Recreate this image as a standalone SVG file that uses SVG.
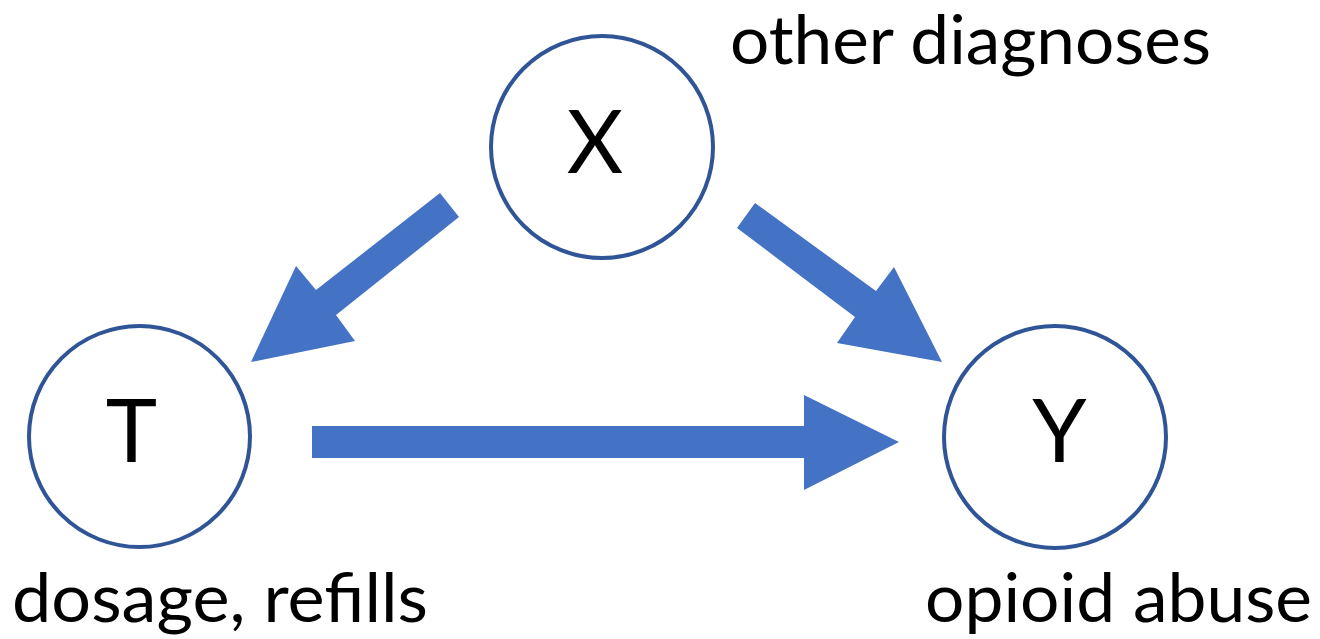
<svg xmlns="http://www.w3.org/2000/svg" width="1320" height="639" viewBox="0 0 1320 639">
<style>
.node{fill:#FFFFFF;stroke:#2F5597;stroke-width:4}
.letter{font-family:Lato,"Liberation Sans",sans-serif;font-size:87px;fill:#000;text-anchor:middle}
.label{font-family:Lato,"Liberation Sans",sans-serif;font-size:67px;fill:#000}
.arrow{fill:#4472C4}
</style>
<rect width="1320" height="639" fill="#FFFFFF"/>
<g id="connectors">
<polygon class="arrow" points="440,193 459,217 336,315 355,341 251,362 296,266 316,290"/>
<polygon class="arrow" points="755,203 876,291 894,267 942,362 837,343 855,317 737,228"/>
<polygon class="arrow" points="312,426 804,426 804,395 899,442 804,490 804,458 312,458"/>
</g>
<g id="node-X">
<circle class="node" cx="602" cy="147" r="111"/>
<text class="letter" x="595" y="173">X</text>
</g>
<g id="node-T">
<circle class="node" cx="139.5" cy="436.5" r="110.5"/>
<text class="letter" x="131.5" y="462">T</text>
</g>
<g id="node-Y">
<circle class="node" cx="1055" cy="437" r="111"/>
<text class="letter" x="1059.5" y="462">Y</text>
</g>
<g id="labels">
<text class="label" x="730" y="64" textLength="481" lengthAdjust="spacingAndGlyphs">other diagnoses</text>
<text class="label" x="12" y="622" textLength="416" lengthAdjust="spacingAndGlyphs">dosage, refills</text>
<text class="label" x="925" y="622" textLength="387" lengthAdjust="spacingAndGlyphs">opioid abuse</text>
</g>
</svg>
